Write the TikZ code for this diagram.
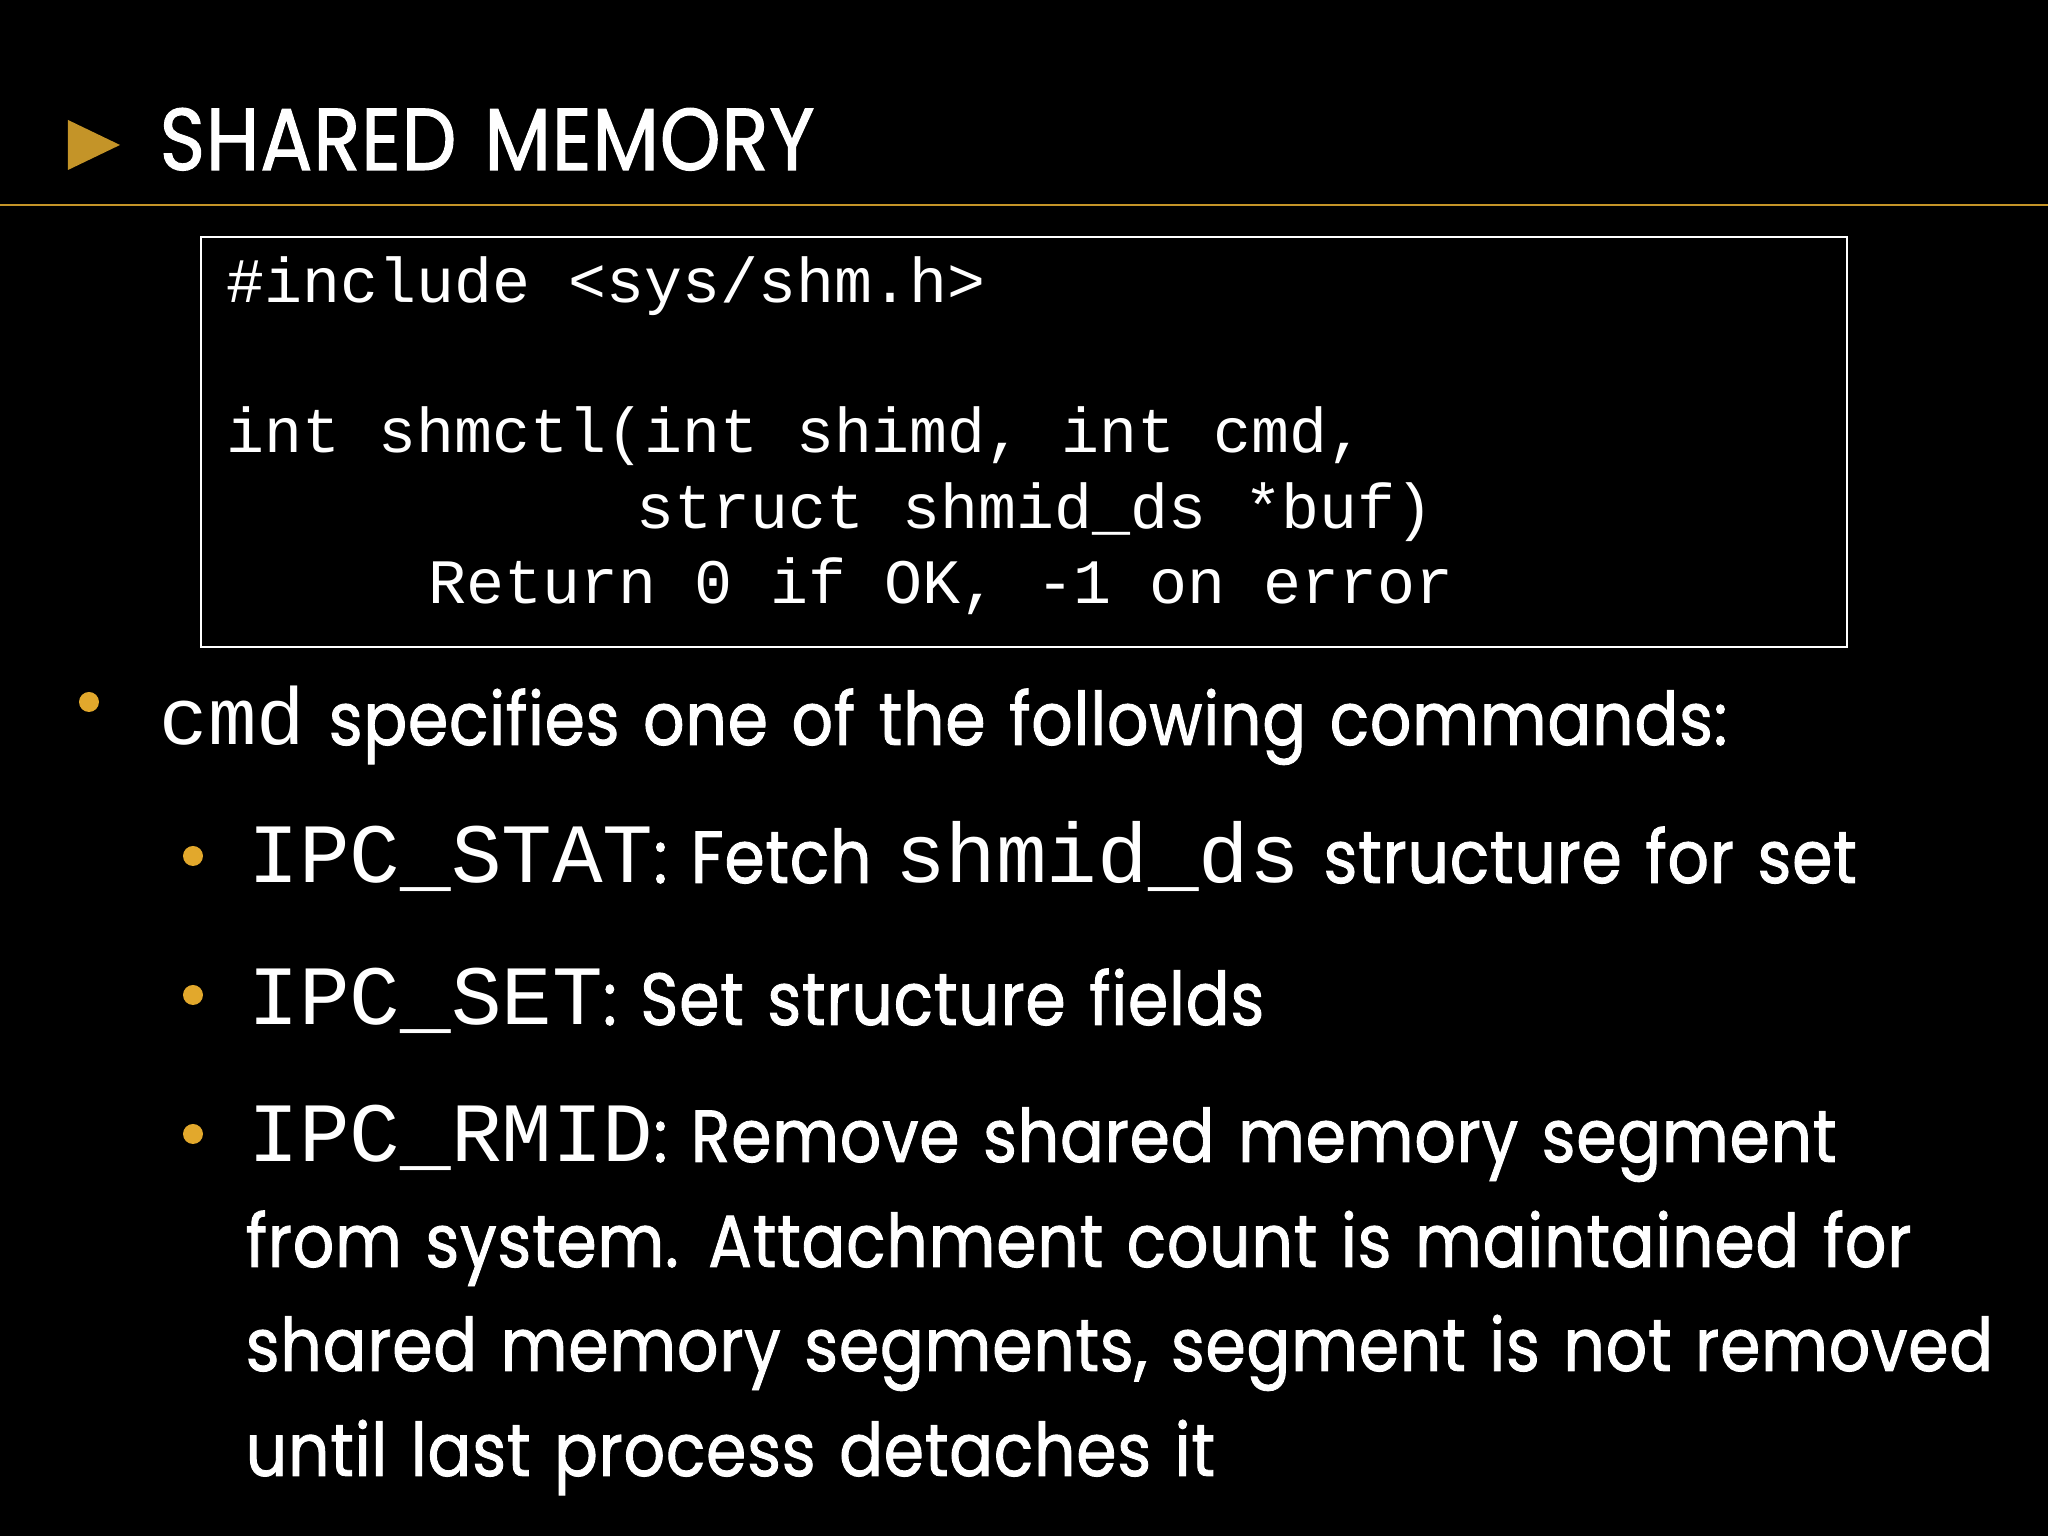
\documentclass[tikz,border=0pt]{standalone}
\usepackage{fontspec}
\setmainfont{Poppins}[FakeStretch=0.88, FakeBold=1.2, LetterSpace=1, WordSpace=1.3]
\setmonofont{Liberation Mono}
\usetikzlibrary{positioning}
\definecolor{gold}{RGB}{196,148,40}
\definecolor{dotgold}{RGB}{226,168,44}
\begin{document}
\begin{tikzpicture}[
    txt/.style={anchor=base west, inner sep=0pt, text=white},
    code/.style={txt, font=\ttfamily\fontsize{18}{20}\selectfont},
    item/.style={txt, font=\fontsize{21}{24}\selectfont},
    dot/.style={circle, fill=dotgold, inner sep=0pt, minimum size=0.2cm}
]
\useasboundingbox[fill=black] (0,0) rectangle (20.48,15.36);

% Title
\fill[gold] (0.68,14.16) -- (0.68,13.66) -- (1.20,13.91) -- cycle;
\node[txt, font=\fontsize{25}{28}\selectfont] (title) at (1.59,13.66) {SHARED MEMORY};
\draw[gold, line width=0.6pt] (0,13.31) -- (20.48,13.31);

% Prototype box
\draw[white, line width=0.6pt] (2.01,12.99) rectangle (18.47,8.89);
\node[code] (inc) at (2.26,12.33) {\#include~<sys/shm.h>};
\node[code] (proto) at (2.26,10.83) {int~shmctl(int~shimd,~int~cmd,};
\node[code] (args) at (6.36,10.07) {struct~shmid\_ds~*buf)};
\node[code] (ret) at (4.28,9.32) {Return~0~if~OK,~-1~on~error};

% Bullets
\node[dot] (d0) at (0.89,8.34) {};
\node[item] (cmd) at (1.59,7.91) {{\ttfamily\fontsize{23}{24}\selectfont cmd} specifies one of the following commands:};
\node[dot] (d1) at (1.93,6.80) {};
\node[item] (stat) at (2.48,6.53) {{\ttfamily\fontsize{24}{24}\selectfont IPC\_STAT}: Fetch {\ttfamily\fontsize{24}{24}\selectfont shmid\_ds} structure for set};
\node[dot] (d2) at (1.93,5.41) {};
\node[item] (set) at (2.48,5.11) {{\ttfamily\fontsize{24}{24}\selectfont IPC\_SET}: Set structure fields};
\node[dot] (d3) at (1.93,4.02) {};
\node[item] (rmid) at (2.48,3.74) {{\ttfamily\fontsize{24}{24}\selectfont IPC\_RMID}: Remove shared memory segment};
\node[item] (rmid2) at (2.45,2.69) {from system. Attachment count is maintained for};
\node[item] (rmid3) at (2.45,1.65) {shared memory segments, segment is not removed};
\node[item] (rmid4) at (2.45,0.60) {until last process detaches it};
\end{tikzpicture}
\end{document}
